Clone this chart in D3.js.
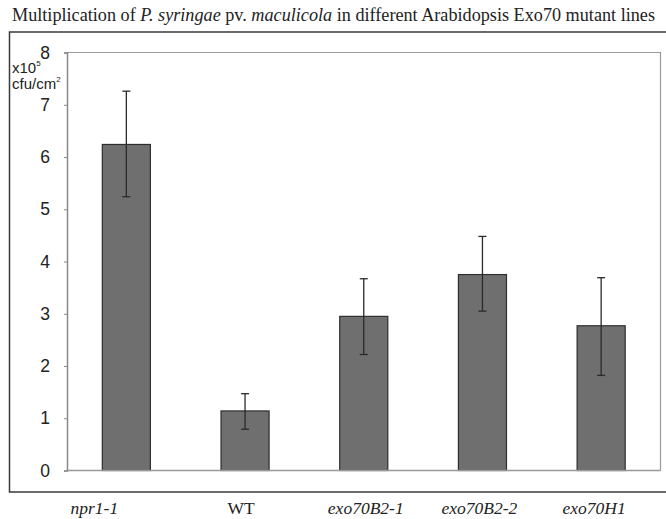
<!DOCTYPE html>
<html>
<head>
<meta charset="utf-8">
<script src="https://cdn.jsdelivr.net/npm/d3@7"></script>
<style>
  body { margin: 0; background: #fff; }
  svg { display: block; }
</style>
</head>
<body>
<svg id="chart"></svg>
<script>
// data (x10^5 cfu/cm2)
var lines = ["npr1-1", "WT", "exo70B2-1", "exo70B2-2", "exo70H1"];
var italicLabel = [true, false, true, true, true];
var means = [6.24, 1.14, 2.95, 3.75, 2.77];
var errHigh = [7.26, 1.47, 3.67, 4.48, 3.69];
var errLow = [5.24, 0.79, 2.22, 3.05, 1.82];
var yTicks = [0, 1, 2, 3, 4, 5, 6, 7, 8];

var screen = {width: 666, height: 519};
var plot = {left: 67, right: 660.5, top: 52.5, bottom: 470.5};
// the category labels in the figure sit a little off their bars
var labelNudge = [-32, -4, 2, -3, -7];

var svg = d3.select("#chart")
    .attr("width", screen.width)
    .attr("height", screen.height);

// title
var title = svg.append("text")
    .attr("x", 12)
    .attr("y", 21)
    .attr("font-family", "Liberation Serif, Times New Roman, serif")
    .attr("font-size", 18)
    .attr("textLength", 643)
    .attr("lengthAdjust", "spacingAndGlyphs")
    .attr("fill", "#222");
title.append("tspan").text("Multiplication of ");
title.append("tspan").attr("font-style", "italic").text("P. syringae");
title.append("tspan").text(" pv. ");
title.append("tspan").attr("font-style", "italic").text("maculicola");
title.append("tspan").text(" in different Arabidopsis Exo70 mutant lines");

// outer frame
svg.append("rect")
    .attr("x", 9.5)
    .attr("y", 32)
    .attr("width", 670)
    .attr("height", 460)
    .attr("fill", "none")
    .attr("stroke", "#3a3a3a")
    .attr("stroke-width", 1.5);

var xScale = d3.scaleBand()
    .domain(lines)
    .range([plot.left, plot.right])
    .padding(0);

var yScale = d3.scaleLinear()
    .domain([0, 8])
    .range([plot.bottom, plot.top]);

var barW = xScale.bandwidth() * 0.405;

// plot area frame (top and right)
svg.append("path")
    .attr("d", "M" + plot.left + "," + plot.top + "H" + plot.right + "V" + plot.bottom)
    .attr("fill", "none")
    .attr("stroke", "#999")
    .attr("stroke-width", 1.2);

// bars
svg.append("g")
    .selectAll("rect")
    .data(means)
    .enter()
    .append("rect")
    .attr("x", function(d, i) { return xScale(lines[i]) + xScale.bandwidth() / 2 - barW / 2; })
    .attr("y", function(d) { return yScale(d); })
    .attr("width", barW)
    .attr("height", function(d) { return yScale(0) - yScale(d); })
    .attr("fill", "#6f6f6f")
    .attr("stroke", "#2e2e2e")
    .attr("stroke-width", 1.2);

// error bars
var eb = svg.append("g")
    .attr("stroke", "#2a2a2a")
    .attr("stroke-width", 1.3);

lines.forEach(function(name, i) {
    var cx = xScale(name) + xScale.bandwidth() / 2;
    eb.append("line")
        .attr("x1", cx).attr("x2", cx)
        .attr("y1", yScale(errHigh[i])).attr("y2", yScale(errLow[i]));
    [errHigh[i], errLow[i]].forEach(function(v) {
        eb.append("line")
            .attr("x1", cx - 4).attr("x2", cx + 4)
            .attr("y1", yScale(v)).attr("y2", yScale(v));
    });
});

// y axis
var yAxis = d3.axisLeft(yScale)
    .tickValues(yTicks)
    .tickSize(3)
    .tickPadding(14)
    .tickFormat(d3.format("d"));

var yg = svg.append("g")
    .attr("transform", "translate(" + plot.left + ",0)")
    .call(yAxis);
yg.select(".domain").attr("stroke", "#888").attr("stroke-width", 1.5);
yg.selectAll(".tick line").attr("stroke", "#888");
yg.selectAll(".tick text")
    .attr("font-family", "Liberation Sans, Arial, sans-serif")
    .attr("font-size", 17.5)
    .attr("fill", "#222");

// x axis line
svg.append("line")
    .attr("x1", plot.left).attr("x2", plot.right)
    .attr("y1", plot.bottom).attr("y2", plot.bottom)
    .attr("stroke", "#999")
    .attr("stroke-width", 1.3);

// unit label
var unit = svg.append("g")
    .attr("font-family", "Liberation Sans, Arial, sans-serif")
    .attr("font-size", 15)
    .attr("fill", "#222");
var u1 = unit.append("text").attr("x", 12).attr("y", 73);
u1.append("tspan").text("x10");
u1.append("tspan").attr("font-size", 8).attr("dy", -7).text("5");
var u2 = unit.append("text").attr("x", 12).attr("y", 89);
u2.append("tspan").text("cfu/cm");
u2.append("tspan").attr("font-size", 8).attr("dy", -7).text("2");

// category labels
svg.append("g")
    .selectAll("text")
    .data(lines)
    .enter()
    .append("text")
    .attr("x", function(d, i) { return xScale(d) + xScale.bandwidth() / 2 + labelNudge[i]; })
    .attr("y", 514)
    .attr("text-anchor", "middle")
    .attr("font-family", "Liberation Serif, Times New Roman, serif")
    .attr("font-size", 17.5)
    .attr("font-style", function(d, i) { return italicLabel[i] ? "italic" : "normal"; })
    .attr("fill", "#222")
    .text(function(d) { return d; });
</script>
</body>
</html>
